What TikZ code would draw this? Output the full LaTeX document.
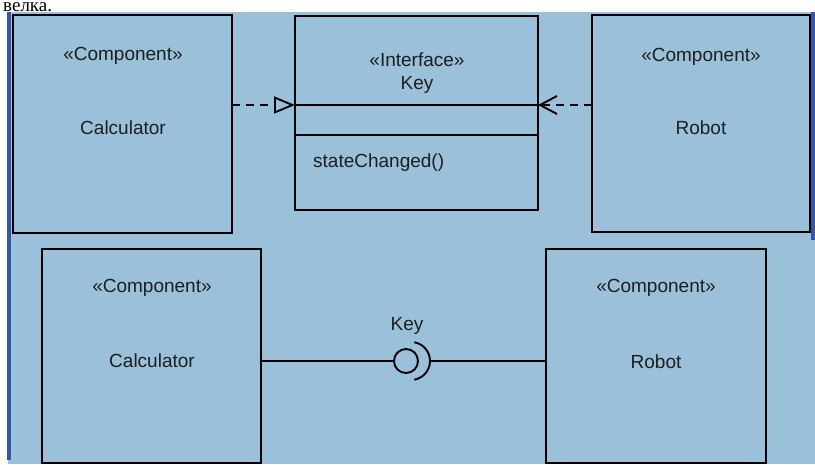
\documentclass[tikz,border=0pt]{standalone}
\usepackage{fontspec}
\newfontfamily\arialf{Liberation Sans}
\newfontfamily\serf{Liberation Serif}
\usetikzlibrary{arrows.meta}
\definecolor{bgblue}{HTML}{9BC0DA}
\definecolor{stripblue}{HTML}{3556A6}
\definecolor{txt}{HTML}{1E1E1E}
\tikzset{
  x=1pt, y=-1pt,
  box/.style={draw=black, line width=1.9pt, anchor=north west, inner sep=0pt, outer sep=0pt},
  lbl/.style={text=txt, font=\arialf\fontsize{19}{22}\selectfont, inner sep=0pt},
  conn/.style={draw=black, line width=1.9pt},
  dsh/.style={conn, dash pattern=on 8pt off 6pt},
}
\begin{document}
\begin{tikzpicture}
\useasboundingbox (0,0) rectangle (815,464);
\fill[white] (0,0) rectangle (815,464);
\node[anchor=base west, inner sep=0pt, font=\serf\fontsize{19}{22}\selectfont] (caption) at (3,11.3) {велка.};
\fill[bgblue] (8,12) rectangle (815,464);
\fill[stripblue] (7,12) rectangle (11,460);
\fill[stripblue] (811,12) rectangle (815,240);

% top row
\node[box, minimum width=219pt, minimum height=218pt] (calcT) at (13,15) {};
\node[lbl] (calcTs) at (123,56) {«Component»};
\node[lbl] (calcTn) at (123,128) {Calculator};

\node[box, minimum width=243pt, minimum height=194pt] (iface) at (295,16) {};
\node[lbl] (ifs) at (417,60) {«Interface»};
\node[lbl] (ifn) at (417,85) {Key};
\coordinate (d1l) at (295,105); \coordinate (d1r) at (538,105);
\coordinate (d2l) at (295,135); \coordinate (d2r) at (538,135);
\draw[conn] (d1l) -- (d1r);
\draw[conn] (d2l) -- (d2r);
\node[lbl, anchor=west] (op) at (313,163) {stateChanged()};

\node[box, minimum width=218pt, minimum height=217pt] (robT) at (592,15) {};
\node[lbl] (robTs) at (701,57) {«Component»};
\node[lbl] (robTn) at (701,128) {Robot};

\draw[dsh, -{Triangle[open, length=21pt, width=17pt, fill=bgblue]}] (calcT.east |- d1l) -- (d1l);
\draw[dsh, -{Straight Barb[length=17pt, width=18pt]}] (robT.west |- d1r) -- (d1r);

% bottom row
\node[box, minimum width=219pt, minimum height=214pt] (calcB) at (42,249) {};
\node[lbl] (calcBs) at (152,288) {«Component»};
\node[lbl] (calcBn) at (152,361) {Calculator};

\node[box, minimum width=220pt, minimum height=214pt] (robB) at (546,249) {};
\node[lbl] (robBs) at (656,288) {«Component»};
\node[lbl] (robBn) at (656,362) {Robot};

\node[circle, draw=black, line width=1.9pt, minimum size=24pt, inner sep=0pt] (ball) at (406,361) {};
\coordinate (sockc) at (411,361);
\coordinate (sockr) at (430,361);
\draw[conn] ([shift={(-80:19pt)}]sockc) arc[start angle=-80, end angle=80, radius=19pt];
\node[lbl] (keyl) at (407,326) {Key};
\draw[conn] (calcB.east |- ball) -- (ball.west);
\draw[conn] (sockr) -- (robB.west |- sockr);
\end{tikzpicture}
\end{document}
